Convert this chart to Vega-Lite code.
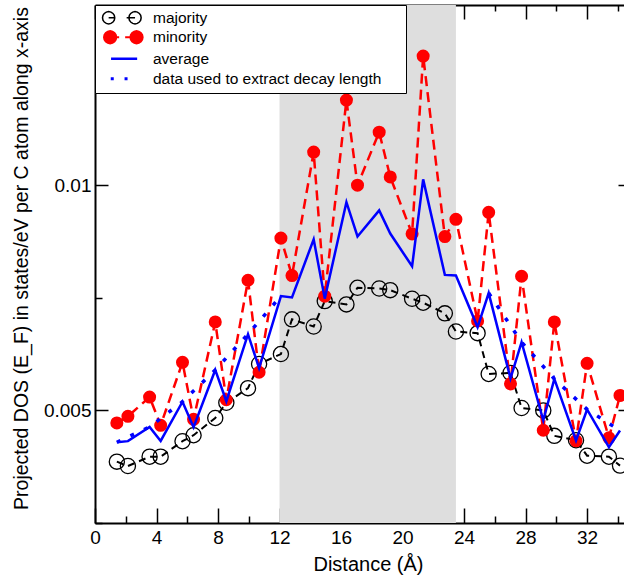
{
  "$schema": "https://vega.github.io/schema/vega-lite/v6.json",
  "width": 529,
  "height": 518,
  "autosize": {"type": "none"},
  "padding": {"left": 95, "top": 5, "right": 0, "bottom": 54},
  "background": "white",
  "config": {
    "view": {"stroke": null},
    "font": "Liberation Sans",
    "axis": {
      "grid": false,
      "domainColor": "black",
      "domainWidth": 2,
      "tickColor": "black",
      "tickWidth": 1.5,
      "labelColor": "black",
      "titleColor": "black",
      "labelFont": "Liberation Sans",
      "titleFont": "Liberation Sans",
      "labelFontSize": 19,
      "titleFontSize": 20,
      "titleFontWeight": "normal",
      "labelFlush": false,
      "labelOverlap": false
    }
  },
  "datasets": {
    "shade": [{"x1": 12, "x2": 23.47}],
    "pts": [
      {"series": "majority", "part": "a", "x": 1.42, "y": 0.003862},
      {"series": "majority", "part": "a", "x": 2.14, "y": 0.003765},
      {"series": "majority", "part": "a", "x": 3.55, "y": 0.003972},
      {"series": "majority", "part": "a", "x": 4.27, "y": 0.003972},
      {"series": "majority", "part": "a", "x": 5.69, "y": 0.004316},
      {"series": "majority", "part": "a", "x": 6.41, "y": 0.004449},
      {"series": "majority", "part": "a", "x": 7.82, "y": 0.004832},
      {"series": "majority", "part": "a", "x": 8.54, "y": 0.00517},
      {"series": "majority", "part": "a", "x": 9.95, "y": 0.005494},
      {"series": "majority", "part": "a", "x": 10.67, "y": 0.00603},
      {"series": "majority", "part": "a", "x": 12.09, "y": 0.006251},
      {"series": "majority", "part": "a", "x": 12.81, "y": 0.007022},
      {"series": "majority", "part": "a", "x": 14.22, "y": 0.006862},
      {"series": "majority", "part": "a", "x": 14.94, "y": 0.007426},
      {"series": "majority", "part": "a", "x": 16.35, "y": 0.007353},
      {"series": "majority", "part": "a", "x": 17.07, "y": 0.007722},
      {"series": "majority", "part": "a", "x": 18.48, "y": 0.007706},
      {"series": "majority", "part": "a", "x": 19.2, "y": 0.007669},
      {"series": "majority", "part": "a", "x": 20.62, "y": 0.007479},
      {"series": "majority", "part": "a", "x": 21.34, "y": 0.007391},
      {"series": "majority", "part": "a", "x": 22.75, "y": 0.007155},
      {"series": "majority", "part": "a", "x": 23.47, "y": 0.006751},
      {"series": "majority", "part": "a", "x": 24.88, "y": 0.006714},
      {"series": "majority", "part": "a", "x": 25.6, "y": 0.005809},
      {"series": "majority", "part": "a", "x": 27.02, "y": 0.005831},
      {"series": "majority", "part": "a", "x": 27.74, "y": 0.005053},
      {"series": "majority", "part": "a", "x": 29.15, "y": 0.005},
      {"series": "majority", "part": "a", "x": 29.87, "y": 0.004435},
      {"series": "majority", "part": "a", "x": 31.28, "y": 0.004338},
      {"series": "majority", "part": "a", "x": 32.0, "y": 0.003994},
      {"series": "majority", "part": "a", "x": 33.42, "y": 0.003972},
      {"series": "majority", "part": "a", "x": 34.14, "y": 0.003774},
      {"series": "minority", "part": "a", "x": 1.42, "y": 0.004722},
      {"series": "minority", "part": "a", "x": 2.14, "y": 0.004868},
      {"series": "minority", "part": "a", "x": 3.55, "y": 0.005296},
      {"series": "minority", "part": "a", "x": 4.27, "y": 0.004669},
      {"series": "minority", "part": "a", "x": 5.69, "y": 0.006067},
      {"series": "minority", "part": "a", "x": 6.41, "y": 0.004802},
      {"series": "minority", "part": "a", "x": 7.82, "y": 0.006963},
      {"series": "minority", "part": "a", "x": 8.54, "y": 0.005236},
      {"series": "minority", "part": "a", "x": 9.95, "y": 0.007889},
      {"series": "minority", "part": "a", "x": 10.67, "y": 0.005847},
      {"series": "minority", "part": "a", "x": 12.09, "y": 0.008824},
      {"series": "minority", "part": "a", "x": 12.81, "y": 0.007993},
      {"series": "minority", "part": "a", "x": 14.22, "y": 0.010734},
      {"series": "minority", "part": "a", "x": 14.94, "y": 0.007536},
      {"series": "minority", "part": "a", "x": 16.35, "y": 0.01189},
      {"series": "minority", "part": "a", "x": 17.07, "y": 0.01},
      {"series": "minority", "part": "a", "x": 18.48, "y": 0.011176},
      {"series": "minority", "part": "a", "x": 19.2, "y": 0.010183},
      {"series": "minority", "part": "a", "x": 20.62, "y": 0.008919},
      {"series": "minority", "part": "a", "x": 21.34, "y": 0.012867},
      {"series": "minority", "part": "a", "x": 22.75, "y": 0.00886},
      {"series": "minority", "part": "a", "x": 23.47, "y": 0.009243},
      {"series": "minority", "part": "a", "x": 24.88, "y": 0.006985},
      {"series": "minority", "part": "a", "x": 25.6, "y": 0.009398},
      {"series": "minority", "part": "a", "x": 27.02, "y": 0.005589},
      {"series": "minority", "part": "a", "x": 27.74, "y": 0.007978},
      {"series": "minority", "part": "a", "x": 29.15, "y": 0.004559},
      {"series": "minority", "part": "a", "x": 29.87, "y": 0.006963},
      {"series": "minority", "part": "a", "x": 31.28, "y": 0.004325},
      {"series": "minority", "part": "a", "x": 32.0, "y": 0.006045},
      {"series": "minority", "part": "a", "x": 33.42, "y": 0.004391},
      {"series": "minority", "part": "a", "x": 34.14, "y": 0.005331},
      {"series": "average", "part": "a", "x": 1.42, "y": 0.004292},
      {"series": "average", "part": "a", "x": 2.14, "y": 0.004317},
      {"series": "average", "part": "a", "x": 3.55, "y": 0.004634},
      {"series": "average", "part": "a", "x": 4.27, "y": 0.004321},
      {"series": "average", "part": "a", "x": 5.69, "y": 0.005192},
      {"series": "average", "part": "a", "x": 6.41, "y": 0.004626},
      {"series": "average", "part": "a", "x": 7.82, "y": 0.005898},
      {"series": "average", "part": "a", "x": 8.54, "y": 0.005203},
      {"series": "average", "part": "a", "x": 9.95, "y": 0.006692},
      {"series": "average", "part": "a", "x": 10.67, "y": 0.005939},
      {"series": "average", "part": "a", "x": 12.09, "y": 0.007538},
      {"series": "average", "part": "a", "x": 12.81, "y": 0.007508},
      {"series": "average", "part": "a", "x": 14.22, "y": 0.008798},
      {"series": "average", "part": "a", "x": 14.94, "y": 0.007481},
      {"series": "average", "part": "a", "x": 16.35, "y": 0.009622},
      {"series": "average", "part": "a", "x": 17.07, "y": 0.008861},
      {"series": "average", "part": "a", "x": 18.48, "y": 0.009441},
      {"series": "average", "part": "a", "x": 19.2, "y": 0.008926},
      {"series": "average", "part": "a", "x": 20.62, "y": 0.008199},
      {"series": "average", "part": "a", "x": 21.34, "y": 0.010129},
      {"series": "average", "part": "a", "x": 22.75, "y": 0.008008},
      {"series": "average", "part": "a", "x": 23.47, "y": 0.007997},
      {"series": "average", "part": "a", "x": 24.88, "y": 0.00685},
      {"series": "average", "part": "a", "x": 25.6, "y": 0.007604},
      {"series": "average", "part": "a", "x": 27.02, "y": 0.00571},
      {"series": "average", "part": "a", "x": 27.74, "y": 0.006516},
      {"series": "average", "part": "a", "x": 29.15, "y": 0.00478},
      {"series": "average", "part": "a", "x": 29.87, "y": 0.005699},
      {"series": "average", "part": "a", "x": 31.28, "y": 0.004332},
      {"series": "average", "part": "a", "x": 32.0, "y": 0.00502},
      {"series": "average", "part": "a", "x": 33.42, "y": 0.004182},
      {"series": "average", "part": "a", "x": 34.14, "y": 0.004553},
      {"series": "data used to extract decay length", "part": "left", "x": 1.42, "y": 0.004292},
      {"series": "data used to extract decay length", "part": "left", "x": 3.55, "y": 0.004634},
      {"series": "data used to extract decay length", "part": "left", "x": 5.69, "y": 0.005192},
      {"series": "data used to extract decay length", "part": "left", "x": 7.82, "y": 0.005898},
      {"series": "data used to extract decay length", "part": "left", "x": 9.95, "y": 0.006692},
      {"series": "data used to extract decay length", "part": "left", "x": 12.09, "y": 0.007538},
      {"series": "data used to extract decay length", "part": "right", "x": 25.6, "y": 0.007604},
      {"series": "data used to extract decay length", "part": "right", "x": 27.74, "y": 0.006516},
      {"series": "data used to extract decay length", "part": "right", "x": 29.87, "y": 0.005699},
      {"series": "data used to extract decay length", "part": "right", "x": 32.0, "y": 0.00502},
      {"series": "data used to extract decay length", "part": "right", "x": 34.14, "y": 0.004553}
    ]
  },
  "resolve": {"axis": {"x": "independent", "y": "independent"}},
  "layer": [
    {
      "data": {"name": "shade"},
      "mark": {"type": "rect", "fill": "#dedede"},
      "encoding": {
        "x": {
          "field": "x1", "type": "quantitative",
          "scale": {"domain": [0, 34.4], "nice": false, "zero": false},
          "axis": {
            "orient": "bottom", "values": [0, 4, 8, 12, 16, 20, 24, 28, 32],
            "ticks": false, "tickSize": 0, "domain": true, "labelPadding": 5,
            "format": "d", "title": "Distance (Å)", "titleX": 273, "titleY": 31
          }
        },
        "x2": {"field": "x2"}
      }
    },
    {
      "data": {"name": "pts"},
      "transform": [{"filter": "datum.series === 'majority'"}],
      "mark": {"type": "line", "strokeDash": [7, 5], "strokeWidth": 2},
      "encoding": {
        "x": {
          "field": "x", "type": "quantitative",
          "scale": {"domain": [0, 34.4], "nice": false, "zero": false},
          "axis": {
            "orient": "bottom", "values": [0, 4, 8, 12, 16, 20, 24, 28, 32],
            "labels": false, "domain": false, "title": null, "tickSize": -15
          }
        },
        "y": {
          "field": "y", "type": "quantitative",
          "scale": {"domain": [0.0025, 0.014], "nice": false, "zero": false},
          "axis": {
            "orient": "left", "values": [0.005, 0.01],
            "ticks": false, "tickSize": 0, "domain": true, "labelPadding": 4,
            "labelExpr": "datum.value < 0.007 ? '0.005' : '0.01'",
            "title": "Projected DOS (E_F)  in states/eV per C atom along x-axis",
            "titleFontSize": 19.5,
            "titleX": -64, "titleY": 253
          }
        },
        "color": {
          "field": "series", "type": "nominal",
          "scale": {
            "domain": ["majority", "minority", "average", "data used to extract decay length"],
            "range": ["#000000", "#ff0000", "#0000ff", "#0000ff"]
          },
          "legend": {
            "orient": "top-left", "offset": 0, "padding": 5,
            "title": "\u2800", "titleOrient": "right", "titlePadding": 7,
            "titleFontSize": 16, "titleFont": "DejaVu Sans", "titleColor": "white",
            "strokeColor": "black", "fillColor": "white",
            "symbolSize": 400, "symbolOffset": 15, "labelOffset": 22.5, "rowPadding": -1.5,
            "labelFontSize": 15.5, "labelFont": "Liberation Sans", "labelColor": "black",
            "labelLimit": 0,
            "encode": {
              "symbols": {
                "update": {
                  "shape": {"signal": "datum.value === 'majority' ? 'M0,-0.63M0,0.63M-0.8,0l-0.047,0.234l-0.132,0.199l-0.199,0.132l-0.234,0.047l-0.234,-0.047l-0.199,-0.132l-0.132,-0.199l-0.047,-0.234l0.047,-0.234l0.132,-0.199l0.199,-0.132l0.234,-0.047l0.234,0.047l0.199,0.132l0.132,0.199zM1.84,0l-0.047,0.234l-0.132,0.199l-0.199,0.132l-0.234,0.047l-0.234,-0.047l-0.199,-0.132l-0.132,-0.199l-0.047,-0.234l0.047,-0.234l0.132,-0.199l0.199,-0.132l0.234,-0.047l0.234,0.047l0.199,0.132l0.132,0.199zM-1.41,0L-0.77,0M0.39,0L1.23,0' : datum.value === 'minority' ? 'M0,-0.63M0,0.63M-0.65,0l-0.047,0.234l-0.132,0.199l-0.199,0.132l-0.234,0.047l-0.234,-0.047l-0.199,-0.132l-0.132,-0.199l-0.047,-0.234l0.047,-0.234l0.132,-0.199l0.199,-0.132l0.234,-0.047l0.234,0.047l0.199,0.132l0.132,0.199zM1.99,0l-0.047,0.234l-0.132,0.199l-0.199,0.132l-0.234,0.047l-0.234,-0.047l-0.199,-0.132l-0.132,-0.199l-0.047,-0.234l0.047,-0.234l0.132,-0.199l0.199,-0.132l0.234,-0.047l0.234,0.047l0.199,0.132l0.132,0.199zM-1.26,0L-0.36,0M0.24,0L1.38,0' : datum.value === 'average' ? 'M0,-0.63M0,0.63M-1.17,0L1.44,0' : 'M0,-0.63M0,0.63M-1.2,-0.15H-0.9V0.15H-1.2ZM0.18,-0.15H0.48V0.15H0.18Z'"},
                  "size": {"value": 400},
                  "fill": {"signal": "datum.value === 'minority' ? '#ff0000' : datum.value === 'data used to extract decay length' ? '#0000ff' : 'transparent'"},
                  "fillOpacity": {"signal": "datum.value === 'minority' || datum.value === 'data used to extract decay length' ? 1 : 0"},
                  "stroke": {"signal": "datum.value === 'majority' ? '#000000' : datum.value === 'minority' ? '#ff0000' : datum.value === 'average' ? '#0000ff' : 'transparent'"},
                  "strokeWidth": {"signal": "datum.value === 'majority' ? 1.5 : datum.value === 'minority' ? 2 : datum.value === 'average' ? 2.5 : 0"},
                  "strokeDash": {"value": []},
                  "opacity": {"value": 1}
                }
              }
            }
          }
        }
      }
    },
    {
      "data": {"name": "pts"},
      "transform": [{"filter": "datum.series === 'majority'"}],
      "mark": {"type": "point", "filled": false, "size": 230, "strokeWidth": 1.3, "opacity": 1},
      "encoding": {
        "x": {
          "field": "x", "type": "quantitative",
          "scale": {"domain": [0, 34.4], "nice": false, "zero": false},
          "axis": {
            "orient": "bottom", "values": [2, 6, 10, 14, 18, 22, 26, 30, 34],
            "labels": false, "domain": false, "title": null, "tickSize": -7
          }
        },
        "y": {
          "field": "y", "type": "quantitative",
          "scale": {"domain": [0.0025, 0.014], "nice": false, "zero": false},
          "axis": {
            "orient": "left", "values": [0.005, 0.01],
            "labels": false, "domain": false, "title": null, "tickSize": -13
          }
        },
        "color": {"field": "series", "type": "nominal"}
      }
    },
    {
      "data": {"name": "pts"},
      "transform": [{"filter": "datum.series === 'minority'"}],
      "mark": {"type": "line", "strokeDash": [10, 6], "strokeWidth": 2.5},
      "encoding": {
        "x": {
          "field": "x", "type": "quantitative",
          "scale": {"domain": [0, 34.4], "nice": false, "zero": false},
          "axis": {
            "orient": "top", "values": [0, 4, 8, 12, 16, 20, 24, 28, 32],
            "labels": false, "domain": true, "title": null, "tickSize": -14
          }
        },
        "y": {
          "field": "y", "type": "quantitative",
          "scale": {"domain": [0.0025, 0.014], "nice": false, "zero": false},
          "axis": {
            "orient": "left", "values": [0.0025, 0.0075, 0.0125],
            "labels": false, "domain": false, "title": null, "tickSize": -7
          }
        },
        "color": {"field": "series", "type": "nominal"}
      }
    },
    {
      "data": {"name": "pts"},
      "transform": [{"filter": "datum.series === 'minority'"}],
      "mark": {"type": "point", "filled": true, "size": 170, "opacity": 1},
      "encoding": {
        "x": {
          "field": "x", "type": "quantitative",
          "scale": {"domain": [0, 34.4], "nice": false, "zero": false},
          "axis": {
            "orient": "top", "values": [2, 6, 10, 14, 18, 22, 26, 30, 34],
            "labels": false, "domain": false, "title": null, "tickSize": -6
          }
        },
        "y": {
          "field": "y", "type": "quantitative",
          "scale": {"domain": [0.0025, 0.014], "nice": false, "zero": false},
          "axis": {
            "orient": "right", "values": [0.005, 0.01],
            "labels": false, "domain": false, "title": null, "tickSize": -6
          }
        },
        "color": {"field": "series", "type": "nominal"}
      }
    },
    {
      "data": {"name": "pts"},
      "transform": [{"filter": "datum.series === 'average'"}],
      "mark": {"type": "line", "strokeWidth": 2.5},
      "encoding": {
        "x": {"field": "x", "type": "quantitative", "scale": {"domain": [0, 34.4], "nice": false, "zero": false}, "axis": null},
        "y": {"field": "y", "type": "quantitative", "scale": {"domain": [0.0025, 0.014], "nice": false, "zero": false}, "axis": null},
        "color": {"field": "series", "type": "nominal"}
      }
    },
    {
      "data": {"name": "pts"},
      "transform": [{"filter": "datum.series === 'data used to extract decay length'"}],
      "mark": {"type": "line", "strokeWidth": 3.5, "strokeDash": [4, 11]},
      "encoding": {
        "x": {"field": "x", "type": "quantitative", "scale": {"domain": [0, 34.4], "nice": false, "zero": false}, "axis": null},
        "y": {"field": "y", "type": "quantitative", "scale": {"domain": [0.0025, 0.014], "nice": false, "zero": false}, "axis": null},
        "color": {"field": "series", "type": "nominal"},
        "detail": {"field": "part", "type": "nominal"}
      }
    }
  ]
}
